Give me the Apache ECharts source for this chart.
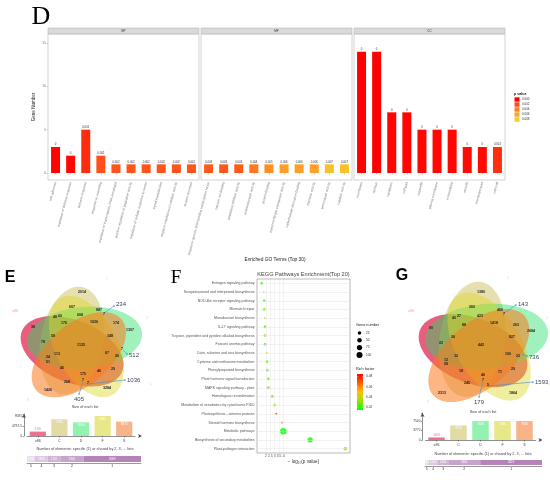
<!DOCTYPE html>
<html><head><meta charset="utf-8">
<script src="https://cdn.jsdelivr.net/npm/echarts@6/dist/echarts.min.js"></script>
<style>html,body{margin:0;padding:0;background:#fff}#c{width:550px;height:480px}</style>
</head><body><div id="c"></div><script>
// ---------------- DATA ----------------
const bpTerms = ['cell adhesion','regulation of defense response','defense response','response to wounding','regulation of transcription, DNA-templated','positive regulation of peptidase activity','regulation of cellular response to stress','signal transduction','negative regulation of catalytic activity','protein secretion'];
const bpCounts = [3,2,5,2,1,1,1,1,1,1];
const bpP = [0.0001,0.0002,0.0012,0.0022,0.0024,0.0024,0.0024,0.0024,0.0024,0.0024];
const mfTerms = ['sequence-specific DNA binding transcription factor','calcium ion binding','peptidase inhibitor activity','oxidoreductase activity','protein binding','transmembrane transporter activity','carbohydrate derivative binding','chitinase activity','peroxidase activity','catalytic activity'];
const mfCounts = [1,1,1,1,1,1,1,1,1,1];
const mfP = [0.0026,0.0026,0.0026,0.0037,0.0048,0.0058,0.0058,0.0058,0.0075,0.0075];
const ccTerms = ['membrane','nucleus','cytoplasm','cell part','organelle','plasma membrane','extracellular','vacuole','membrane part','cell wall'];
const ccCounts = [14,14,7,7,5,5,5,3,3,3];
const ccP = [0.0000,0.0000,0.0001,0.0001,0.0002,0.0002,0.0002,0.0003,0.0003,0.0013];
const pLegendTicks = [0.000,0.002,0.004,0.006,0.008];
const goFacets = ['BP','MF','CC'];

const keggPathways = ['Estrogen signaling pathway','Sesquiterpenoid and triterpenoid biosynthesis','NOD-like receptor signaling pathway','Mismatch repair','Monobactam biosynthesis','IL-17 signaling pathway','Tropane, piperidine and pyridine alkaloid biosynthesis','Fanconi anemia pathway','Cutin, suberine and wax biosynthesis','Cysteine and methionine metabolism','Phenylpropanoid biosynthesis','Plant hormone signal transduction','MAPK signaling pathway - plant','Homologous recombination','Metabolism of xenobiotics by cytochrome P450','Photosynthesis - antenna proteins','Steroid hormone biosynthesis','Metabolic pathways','Biosynthesis of secondary metabolites','Plant-pathogen interaction'];
const keggLogP = [1.53,1.76,1.82,1.82,1.87,1.90,1.90,1.90,2.09,2.13,2.16,2.28,2.28,2.73,3.00,3.18,3.82,3.97,7.00,10.97];
const keggGenes = [14,2,12,11,2,11,10,10,3,12,12,14,13,13,11,4,5,118,72,28];
const keggRich = [0.020,0.045,0.022,0.025,0.040,0.022,0.025,0.022,0.052,0.022,0.025,0.027,0.030,0.025,0.035,0.080,0.065,0.012,0.016,0.038];
const keggXTicks = [2,2.5,3,3.5,4];
const geneLegend = [25,50,75,100];
const richTicks = [0.08,0.06,0.04,0.02];

const vennSets = ['x86','C','D','F','S'];
const sharedDegrees = ['5','4','3','2','1'];
const vennE_counts = [2014,607,887,7,48,60,608,176,1026,174,38,1307,58,348,78,1125,67,7,26,113,24,51,29,40,46,175,268,7,7,1426,3284];
const vennE_callouts = [234,512,1036,405];
const vennE_sizes = [2105,7990,6550,9585,6870];
const vennE_sizeTicks = [0,4792.5,9585];
const vennE_shared = [1125,1800,1750,3300,8069];
const vennG_counts = [1380,260,460,7,40,27,423,88,1418,263,80,2684,26,827,22,442,106,22,32,12,58,29,18,71,46,245,7,5,2313,1864];
const vennG_callouts = [143,736,1593,179];
const vennG_sizes = [1009,5740,7520,7540,7535];
const vennG_sizeTicks = [0,3770,7540];
const vennG_shared = [442,1300,1400,4300,8321];

// ---------------- LAYOUT / STYLE ----------------
const FONT = 'Liberation Sans, Arial, sans-serif';
const SERIF = 'Liberation Serif, Times New Roman, serif';
const vennE_pos = [[82,292],[72,307],[99,310],[104,314],[55,317],[60,316],[80,315],[64,323],[94,322],[116,323],[33,327],[130,330],[53,336],[110,336],[43,342],[81,345],[107,353],[122,349],[117,356],[57,354],[48,357],[48,362],[113,369],[62,368],[99,371],[83,374],[67,382],[83,380],[88,383],[48,390],[107,388]];
const vennE_callPos = [[[104,313],[114,306],[116,304],'left'],[[123,350],[127,354],[129,355],'left'],[[88,384],[125,380],[127,380],'left'],[[83,382],[79,394],[79,399],'center']];
const vennG_pos = [[481,292],[472,307],[500,310],[504,314],[454,318],[459,316],[480,316],[464,325],[494,323],[516,325],[431,328],[531,331],[453,337],[512,337],[441,343],[481,345],[508,354],[518,356],[456,356],[446,360],[446,364],[513,369],[461,371],[500,372],[483,375],[467,383],[483,380],[488,385],[442,393],[513,393]];
const vennG_callPos = [[[504,313],[516,305],[518,304],'left'],[[522,354],[527,356],[529,357],'left'],[[489,386],[533,382],[535,382],'left'],[[483,382],[479,397],[479,402],'center']];
// outer tips of the five ellipses (pink, tan, green, yellow, orange)
const vennE_shape = {C:[78,346], tips:[[22,331],[82,287],[142,333],[112,395],[36,390]], endDist:51, b:31};
const vennG_shape = {C:[479,345], tips:[[420,330],[481,282],[548,332],[520,398],[433,395]], endDist:54, b:32.5};
const vennFill = ['#e0204c','#c8b850','#20dd60','#dcd728','#fa781e'];
const vennAlpha = [0.72,0.45,0.42,0.45,0.55];
const sizeBarColors = ['#f07090','#e2dba6','#94f2b0','#e8e888','#f8b488'];
const sharedColors = ['#eadcec','#ddc8e2','#d0b4d6','#c6a4cc','#b583b8'];
const pStops = [[0,[255,0,0]],[0.002,[255,74,26]],[0.004,[255,128,32]],[0.006,[255,162,40]],[0.008,[246,204,40]]];
const richColors = ['#00ff00','#9be000','#ffc000','#ff6000','#ff0000'];

function pColor(p){
  if(p<=pStops[0][0]) return 'rgb('+pStops[0][1].join(',')+')';
  for(let i=1;i<pStops.length;i++){
    if(p<=pStops[i][0]){
      const t=(p-pStops[i-1][0])/(pStops[i][0]-pStops[i-1][0]);
      const c=pStops[i-1][1].map((v,k)=>Math.round(v+(pStops[i][1][k]-v)*t));
      return 'rgb('+c.join(',')+')';
    }
  }
  return 'rgb('+pStops[pStops.length-1][1].join(',')+')';
}
function geneSize(n){ return 1 + 0.5*Math.sqrt(n); }
function pLabel(p){ return p < 0.0005 ? '0' : p.toFixed(3); }

const graphics = [];
function txt(x,y,text,o,rot){ graphics.push({type:'text', x:x, y:y, rotation:rot||0, silent:true, z:10, style:Object.assign({text:String(text), fontSize:4, fontFamily:FONT, fill:'#333', textAlign:'center', textVerticalAlign:'middle'}, o||{})}); }
function rect(x,y,w,h,st,z){ graphics.push({type:'rect', silent:true, z:z||1, shape:{x:x,y:y,width:w,height:h}, style:st}); }
function line(pts,st){ graphics.push({type:'polyline', silent:true, z:9, shape:{points:pts}, style:st}); }

// ---- Panel D frame ----
txt(41,17,'D',{fontSize:26, fontFamily:SERIF, fill:'#000'});
const facetBoxes = [[48,151],[201,151],[354,151]];
facetBoxes.forEach((b,i)=>{
  rect(b[0],28,b[1],6,{fill:'#d9d9d9', stroke:'#b8b8b8', lineWidth:0.6});
  txt(b[0]+b[1]/2,31,goFacets[i],{fontSize:3, fill:'#333'});
  rect(b[0],34,b[1],146,{fill:'none', stroke:'#c8c8c8', lineWidth:0.8});
});
txt(34,107,'Gene Number',{fontSize:4.5, fill:'#222'},Math.PI/2);
txt(275,260,'Enriched GO Terms (Top 30)',{fontSize:4.8, fill:'#222'});
txt(514,94,'p value',{fontSize:3.6, fill:'#111', fontWeight:'bold', textAlign:'left'});
pLegendTicks.forEach((v,i)=>{
  rect(514.5,97.3+i*5,5,4.4,{fill:pColor(v)});
  txt(522,99.5+i*5,v.toFixed(3),{fontSize:3, fill:'#333', textAlign:'left'});
});

// ---- Panel F extras ----
txt(176,278,'F',{fontSize:19, fontFamily:SERIF, fill:'#000'});
txt(303.5,274,'KEGG Pathways Enrichment(Top 20)',{fontSize:5.6, fill:'#444'});
txt(303.5,462,'\u2212 log\u2081\u2080(p value)',{fontSize:4.6, fill:'#333'});
txt(356,325,'Gene number',{fontSize:3.8, fill:'#222', textAlign:'left'});
geneLegend.forEach((n,i)=>{
  graphics.push({type:'circle', silent:true, z:5, shape:{cx:359.5, cy:333+i*7.3, r:geneSize(n)/2}, style:{fill:'#000'}});
  txt(366,333+i*7.3,n,{fontSize:3.2, fill:'#333', textAlign:'left'});
});
txt(356,369,'Rich factor',{fontSize:3.8, fill:'#222', textAlign:'left'});
const rcMin=0.015, rcMax=0.085, rcTop=374, rcH=36;
graphics.push({type:'rect', silent:true, z:5, shape:{x:357,y:rcTop,width:6,height:rcH}, style:{fill:new echarts.graphic.LinearGradient(0,0,0,1, richColors.slice().reverse().map((c,i,a)=>({offset:i/(a.length-1), color:c})))}});
richTicks.forEach(v=>{
  const y = rcTop + (rcMax-v)/(rcMax-rcMin)*rcH;
  txt(366,y,v.toFixed(2),{fontSize:3.2, fill:'#333', textAlign:'left'});
  line([[357,y],[358.2,y]],{stroke:'#fff', lineWidth:0.4});
  line([[361.8,y],[363,y]],{stroke:'#fff', lineWidth:0.4});
});

// ---- Venn diagrams ----
function ellipsePts(cx,cy,a,b,rot){
  const pts=[];
  for(let i=0;i<120;i++){ const t=i/120*2*Math.PI; const x=a*Math.cos(t), y=b*Math.sin(t);
    pts.push([cx + x*Math.cos(rot) - y*Math.sin(rot), cy + x*Math.sin(rot) + y*Math.cos(rot)]); }
  return pts;
}
function drawVenn(shape,counts,pos,callouts,callPos,setLabelPos){
  const C=shape.C;
  shape.tips.forEach((T,k)=>{
    const ang=Math.atan2(T[1]-C[1],T[0]-C[0]) - 165*Math.PI/180;
    const E=[C[0]+shape.endDist*Math.cos(ang), C[1]+shape.endDist*Math.sin(ang)];
    const cx=(T[0]+E[0])/2, cy=(T[1]+E[1])/2;
    const a=Math.hypot(E[0]-T[0],E[1]-T[1])/2;
    const rot=Math.atan2(E[1]-T[1],E[0]-T[0]);
    graphics.push({type:'polygon', silent:true, z:2+k, shape:{points:ellipsePts(cx,cy,a,shape.b,rot)}, style:{fill:vennFill[k], opacity:vennAlpha[k]}});
  });
  counts.forEach((c,i)=>txt(pos[i][0],pos[i][1],c,{fontSize:3.6, fontWeight:'bold', fill:'#222'}));
  callouts.forEach((c,i)=>{
    const p=callPos[i];
    line([p[0],p[1]],{stroke:'#3f8fd8', lineWidth:0.6});
    graphics.push({type:'circle', silent:true, z:9, shape:{cx:p[1][0],cy:p[1][1],r:0.8}, style:{fill:'#3f8fd8'}});
    txt(p[2][0],p[2][1],c,{fontSize:6, fill:'#3a4560', textAlign:p[3]});
  });
  const labCols=['#f4a0b4','#ece6c6','#c4f2d4','#eceaa0','#f8d4c2'];
  setLabelPos.forEach((p,i)=>txt(p[0],p[1],vennSets[i],{fontSize:3.6, fill:labCols[i]}));
}
txt(10,278,'E',{fontSize:16, fill:'#000', fontWeight:'bold'});
drawVenn(vennE_shape,vennE_counts,vennE_pos,vennE_callouts,vennE_callPos,[[15,311],[107,279],[147,318],[151,385],[28,400]]);
txt(85,407,'Size of each list',{fontSize:3.8, fill:'#444'});
txt(85,449,'Number of elements: specific (1) or shared by 2, 3, ... lists',{fontSize:3.8, fill:'#444'});
txt(402,276,'G',{fontSize:16, fill:'#000', fontWeight:'bold'});
drawVenn(vennG_shape,vennG_counts,vennG_pos,vennG_callouts,vennG_callPos,[[411,311],[508,278],[547,318],[549,385],[428,402]]);
txt(483,412,'Size of each list',{fontSize:3.8, fill:'#444'});
txt(483,454,'Number of elements: specific (1) or shared by 2, 3, ... lists',{fontSize:3.8, fill:'#444'});

// ---------------- CHART ----------------
const chart = echarts.init(document.getElementById('c'), null, {renderer:'canvas'});
const gBase = {outerBoundsMode:'none', containLabel:false};
const grids = [
  Object.assign({left:48, top:43, width:151, height:130}, gBase),
  Object.assign({left:201, top:43, width:151, height:130}, gBase),
  Object.assign({left:354, top:43, width:151, height:130}, gBase),
  Object.assign({left:257, top:279, width:93, height:174, show:true, borderColor:'#8a8a8a', borderWidth:0.6, backgroundColor:'#fff'}, gBase),
  Object.assign({left:27, top:414, width:108, height:22}, gBase),
  Object.assign({left:27, top:455, width:114, height:8}, gBase),
  Object.assign({left:425.5, top:413, width:110, height:27}, gBase),
  Object.assign({left:425, top:459, width:117, height:7}, gBase)
];
function goX(terms,gi){
  return {type:'category', gridIndex:gi, data:terms, offset:7, axisLine:{show:false},
    axisTick:{show:true, length:1.5, alignWithLabel:true, lineStyle:{color:'#999', width:0.5}},
    axisLabel:{interval:0, rotate:75, fontSize:3.4, color:'#888', margin:2, fontFamily:FONT}};
}
function goY(gi,showLab){
  return {type:'value', gridIndex:gi, min:0, max:15, interval:5, splitLine:{show:false}, axisLine:{show:false},
    axisTick:{show:showLab, length:1.5, lineStyle:{color:'#999', width:0.5}},
    axisLabel:{show:showLab, fontSize:3.4, color:'#777', margin:2, fontFamily:FONT}};
}
function goSeries(counts,ps,gi){
  return {type:'bar', xAxisIndex:gi, yAxisIndex:gi, barWidth:9, silent:true,
    data:counts.map((v,i)=>({value:v, itemStyle:{color:pColor(ps[i])}})),
    label:{show:true, position:'top', distance:0.8, fontSize:2.8, color:'#333', fontFamily:FONT, formatter:(p)=>pLabel(ps[p.dataIndex])}};
}
function sizeX(gi){
  return {type:'category', gridIndex:gi, data:vennSets, axisLine:{show:true, symbol:['none','arrow'], symbolSize:[3,4], symbolOffset:[0,7], lineStyle:{color:'#444', width:0.6}},
    axisTick:{show:true, alignWithLabel:true, length:1.5, lineStyle:{color:'#444', width:0.5}},
    axisLabel:{fontSize:3.6, color:'#444', margin:3, fontFamily:FONT}};
}
function sizeY(gi,ticks,pxTop,pxMaxTick,pxZero){
  const mx = ticks[2]*(pxZero-pxTop)/(pxZero-pxMaxTick);
  return {type:'value', gridIndex:gi, min:0, max:mx, interval:ticks[1], offset:3, splitLine:{show:false},
    axisLine:{show:true, symbol:['none','arrow'], symbolSize:[3,4], lineStyle:{color:'#444', width:0.6}},
    axisTick:{show:true, length:1.5, lineStyle:{color:'#444', width:0.5}},
    axisLabel:{fontSize:3.3, color:'#444', margin:2, fontFamily:FONT, formatter:(v)=>ticks.some(t=>Math.abs(t-v)<1e-6)?String(v):''}};
}
function sizeSeries(vals,gi){
  return {type:'bar', xAxisIndex:gi, yAxisIndex:gi, barWidth:'75%', silent:true,
    data:vals.map((v,i)=>({value:v, itemStyle:{color:sizeBarColors[i]},
      label: i===0 ? {show:true, position:'top', distance:1, color:'#f07090', fontSize:3} : {show:true, position:'insideTop', distance:1.5, color:'#fff', fontSize:3}}))};
}
function sharedSeries(vals,gi,bw){
  const out=[];
  vals.forEach((v,i)=>{
    out.push({type:'bar', xAxisIndex:gi, yAxisIndex:gi, stack:'s'+gi, barWidth:bw, barGap:'-100%', silent:true, data:[v],
      itemStyle:{color:sharedColors[i]}, label:{show:true, position:'inside', fontSize:2.8, color:'#fff', formatter:String(v)}});
  });
  vals.forEach((v,i)=>{
    out.push({type:'bar', xAxisIndex:gi, yAxisIndex:gi, stack:'l'+gi, barWidth:bw, barGap:'-100%', silent:true, data:[v],
      itemStyle:{color:'rgba(0,0,0,0)'}, label:{show:true, position:'bottom', distance:2.5, fontSize:3.5, color:'#333', formatter:sharedDegrees[i]}});
  });
  return out;
}
function sharedX(gi,total){
  return {type:'value', gridIndex:gi, min:0, max:total, splitLine:{show:false}, axisTick:{show:false}, axisLabel:{show:false},
    axisLine:{show:true, lineStyle:{color:'#555', width:0.6}}};
}
function sharedY(gi){ return {type:'category', gridIndex:gi, data:[''], show:false}; }

const keggSeriesIdx = 3;
const option = {
  animation:false,
  backgroundColor:'#fff',
  textStyle:{fontFamily:FONT},
  grid:grids,
  xAxis:[
    goX(bpTerms,0), goX(mfTerms,1), goX(ccTerms,2),
    {type:'value', gridIndex:3, min:1, max:11.5, interval:0.5, splitLine:{show:false}, axisLine:{show:false},
      axisTick:{show:false}, axisLabel:{fontSize:3.4, color:'#444', margin:2, fontFamily:FONT,
      formatter:(v)=>keggXTicks.indexOf(v)>=0?String(v):''}},
    sizeX(4), sharedX(5, vennE_shared.reduce((a,b)=>a+b,0)),
    sizeX(6), sharedX(7, vennG_shared.reduce((a,b)=>a+b,0))
  ],
  yAxis:[
    goY(0,true), goY(1,false), goY(2,false),
    {type:'category', gridIndex:3, data:keggPathways, inverse:true, axisLine:{show:false}, axisTick:{show:false}, splitLine:{show:false},
      axisLabel:{interval:0, fontSize:3.5, color:'#555', margin:2.5, fontFamily:FONT}},
    sizeY(4, vennE_sizeTicks, 414, 416, 436), sharedY(5),
    sizeY(6, vennG_sizeTicks, 413, 421, 440), sharedY(7)
  ],
  visualMap:[{type:'continuous', show:false, seriesIndex:keggSeriesIdx, dimension:3, min:rcMin, max:rcMax, inRange:{color:richColors}}],
  series:[
    goSeries(bpCounts,bpP,0), goSeries(mfCounts,mfP,1), goSeries(ccCounts,ccP,2),
    {type:'scatter', xAxisIndex:3, yAxisIndex:3, silent:true,
      data:keggLogP.map((x,i)=>[x, keggPathways[i], keggGenes[i], keggRich[i]]),
      symbolSize:(d)=>geneSize(d[2]),
      markLine:{silent:true, symbol:['none','none'], label:{show:false}, animation:false,
        data: keggPathways.map(n=>({yAxis:n, lineStyle:{color:'#e4e4e4', width:0.5, type:'solid'}}))
          .concat(keggXTicks.map(v=>({xAxis:v, lineStyle:{color:'#d0d0d0', width:0.5, type:'dotted'}})))}},
    sizeSeries(vennE_sizes,4),
    ...sharedSeries(vennE_shared,5,6),
    sizeSeries(vennG_sizes,6),
    ...sharedSeries(vennG_shared,7,5)
  ],
  graphic:{elements:graphics}
};
chart.setOption(option);
</script></body></html>
